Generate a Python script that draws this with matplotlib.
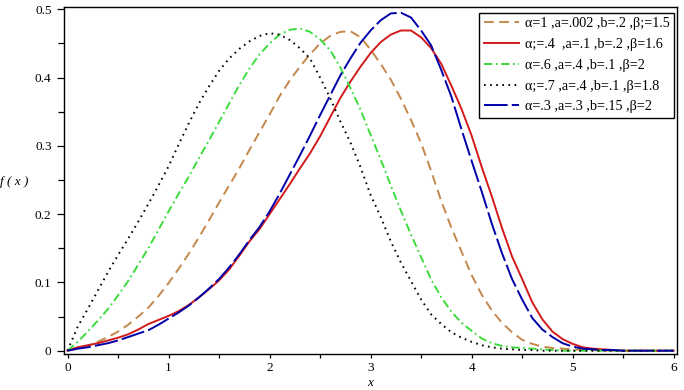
import matplotlib
matplotlib.use("Agg")
import matplotlib.pyplot as plt
from matplotlib.ticker import MultipleLocator

plt.rcParams['font.family'] = ['Liberation Serif', 'DejaVu Serif']
plt.rcParams['lines.scale_dashes'] = False

x = [round(i * 0.1, 1) for i in range(61)]

f_brown = [0, .003, .007, .013, .020, .028, .038, .050, .063, .080,
           .099, .120, .142, .166, .191, .217, .242, .267, .294, .320,
           .346, .373, .396, .416, .434, .450, .461, .467, .468, .459,
           .441, .420, .397, .369, .338, .304, .263, .219, .180, .145,
           .111, .082, .059, .041, .027, .016, .010, .006, .004, .003,
           .002, .001, .001, 0, 0, 0, 0, 0, 0, 0,
           0]
f_red = [0, .005, .008, .011, .015, .019, .024, .031, .039, .045,
         .051, .058, .067, .078, .090, .103, .119, .139, .160, .178,
         .200, .222, .244, .267, .289, .314, .342, .370, .394, .416,
         .436, .452, .463, .469, .469, .459, .443, .420, .388, .354,
         .315, .269, .226, .180, .138, .105, .071, .046, .028, .017,
         .010, .005, .003, .002, .001, 0, 0, 0, 0, 0,
         0]
f_green = [0, .013, .028, .044, .061, .081, .102, .126, .150, .177,
           .204, .230, .255, .282, .308, .335, .362, .389, .413, .434,
           .450, .463, .470, .472, .467, .456, .440, .415, .385, .353,
           .316, .280, .242, .205, .170, .137, .104, .078, .057, .041,
           .029, .018, .011, .007, .005, .004, .003, .002, .001, 0,
           0, 0, 0, 0, 0, 0, 0, 0, 0, 0,
           0]
f_black = [0, .035, .061, .088, .115, .140, .164, .189, .215, .242,
           .270, .302, .333, .362, .387, .410, .428, .442, .453, .461,
           .465, .463, .455, .443, .428, .400, .370, .336, .305, .269,
           .228, .196, .160, .129, .102, .075, .053, .039, .027, .019,
           .013, .008, .005, .003, .002, .001, .001, 0, 0, 0,
           0, 0, 0, 0, 0, 0, 0, 0, 0, 0,
           0]
f_blue = [0, .003, .005, .008, .011, .015, .020, .025, .030, .038,
          .047, .056, .066, .078, .091, .105, .122, .141, .162, .181,
          .204, .230, .258, .286, .315, .345, .374, .403, .428, .451,
          .469, .484, .494, .495, .488, .469, .447, .411, .372, .324,
          .278, .233, .186, .143, .105, .075, .048, .031, .020, .011,
          .006, .003, .002, .001, .001, 0, 0, 0, 0, 0,
          0]

labels = ["α=1 ,a=.002 ,b=.2 ,β;=1.5",
          "α;=.4  ,a=.1 ,b=.2 ,β=1.6",
          "α=.6 ,a=.4 ,b=.1 ,β=2",
          "α;=.7 ,a=.4 ,b=.1 ,β=1.8",
          "α=.3 ,a=.3 ,b=.15 ,β=2"]

fig = plt.figure(figsize=(6.84, 3.90), dpi=100)
ax = fig.add_axes([64/684, 1-353.5/390, (677-64)/684, (353.5-7)/390])

lw = 1.4
ax.plot(x, f_brown, color="#C4874C", lw=lw, linestyle=(0, (7, 4)), label=labels[0])
ax.plot(x, f_red, color="#D21A1A", lw=lw, linestyle="-", label=labels[1])
ax.plot(x, f_green, color="#3DDC3D", lw=lw, linestyle=(0, (6, 2.5, 1.3, 2.5)), label=labels[2])
ax.plot(x, f_black, color="black", lw=lw, linestyle=(0, (1.2, 3.2)), label=labels[3])
ax.plot(x, f_blue, color="#0000AA", lw=lw, linestyle=(0, (17, 3)), label=labels[4])

ax.set_xlim(-0.035, 6.033)
ax.set_ylim(-0.0041, 0.5034)

ax.xaxis.set_minor_locator(MultipleLocator(0.5))
ax.yaxis.set_minor_locator(MultipleLocator(0.05))
ax.set_xticks([0, 1, 2, 3, 4, 5, 6])
ax.set_xticklabels(["0", "1", "2", "3", "4", "5", "6"])
ax.set_yticks([0, 0.1, 0.2, 0.3, 0.4, 0.5])
ax.set_yticklabels(["0", "0.1", "0.2", "0.3", "0.4", "0.5"])

ax.tick_params(axis='x', which='major', direction='out', length=3.2, width=0.9, pad=3, labelsize=9.5)
ax.tick_params(axis='x', which='minor', direction='out', length=2.6, width=0.9)
ax.tick_params(axis='y', which='major', direction='out', length=5, width=0.9, pad=4, labelsize=9.5)
ax.tick_params(axis='y', which='minor', direction='out', length=4, width=0.9)
for s in ax.spines.values():
    s.set_linewidth(1.0)

ax.set_ylabel("f ( x )", rotation=0, fontstyle='italic', fontsize=9.5, ha='center', va='center')
ax.yaxis.set_label_coords(-0.0815, 0.495)
ax.set_xlabel("x", fontstyle='italic', fontsize=9.5, va='center')
ax.xaxis.set_label_coords(0.499, -0.085)

leg = ax.legend(loc='upper right', bbox_to_anchor=(0.9946, 0.9827), borderaxespad=0,
                fontsize=10.2, frameon=True, fancybox=False, framealpha=1,
                edgecolor='black', handlelength=2.5, handletextpad=0.4,
                labelspacing=0.55, borderpad=0.3)
leg.get_frame().set_linewidth(1.0)

fig.savefig("out.png", dpi=100)
